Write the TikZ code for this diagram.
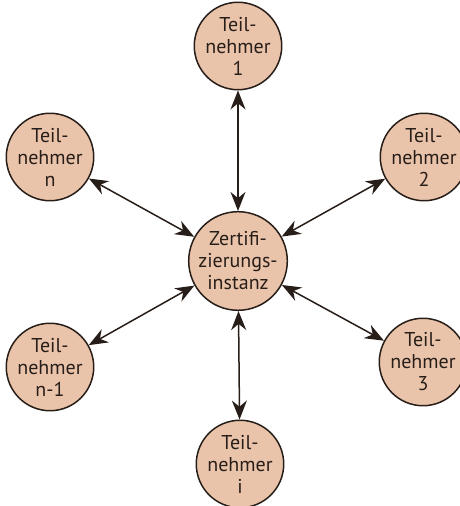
\documentclass[tikz,border=0pt]{standalone}
\usepackage{fontspec}
\setmainfont{PT Sans}
\usetikzlibrary{arrows.meta}
\definecolor{pfirsich}{RGB}{234,196,170}
\definecolor{rand}{RGB}{40,30,25}

\begin{document}
\begin{tikzpicture}[x=1pt,y=1pt,
    teil/.style={circle,draw=rand,line width=1.5pt,fill=pfirsich,minimum size=85pt,inner sep=0pt,align=center,text=rand,font=\fontsize{20}{22}\selectfont},
    pfeil/.style={{Stealth[length=19pt,width=15pt]}-{Stealth[length=19pt,width=15pt]},line width=1.5pt,draw=rand}]
        \useasboundingbox (0,0) rectangle (460,506);
        \node[teil] (zi) at (238,245) {Zertifi-\\zierungs-\\instanz};
        \node[teil] (t1) at (238,460) {Teil-\\nehmer\\1};
        \node[teil] (t2) at (424,349) {Teil-\\nehmer\\2};
        \node[teil] (t3) at (423,144) {Teil-\\nehmer\\3};
        \node[teil] (ti) at (240,42) {Teil-\\nehmer\\i};
        \node[teil] (tn1) at (50,139) {Teil-\\nehmer\\n-1};
        \node[teil] (tn) at (50,349) {Teil-\\nehmer\\n};
        \foreach \t in {t1,t2,t3,ti,tn1,tn}
            \draw[pfeil] (zi)--(\t);
    \end{tikzpicture}
\end{document}
